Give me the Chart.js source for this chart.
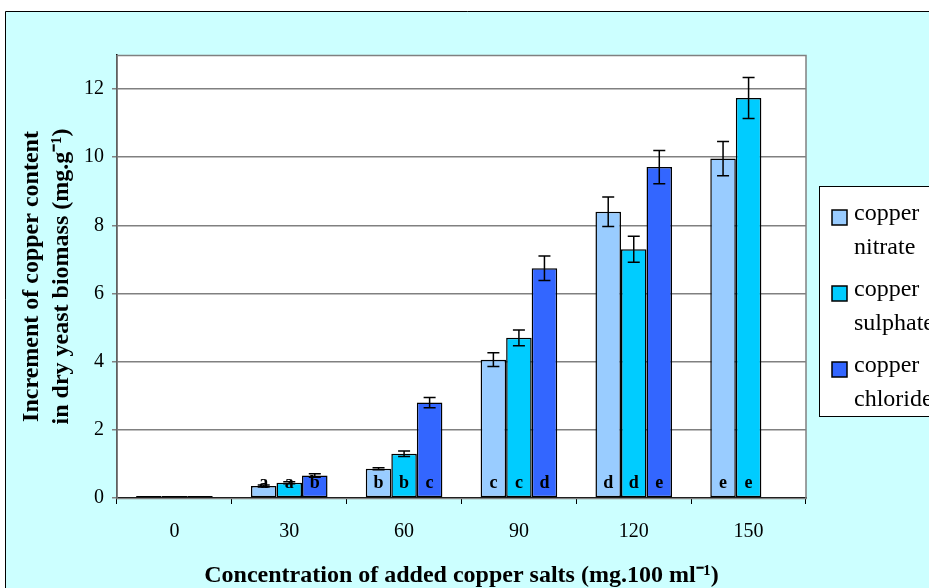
<!DOCTYPE html>
<html>
<head>
<meta charset="utf-8">
<script src="https://cdn.jsdelivr.net/npm/chart.js@4.4.1/dist/chart.umd.min.js"></script>
<style>
  body { margin: 0; background: #fff; }
  #wrap { width: 929px; height: 588px; position: relative; }
</style>
</head>
<body>
<div id="wrap"><canvas id="copperChart"></canvas></div>
<script>
// data
const concentrations = ['0', '30', '60', '90', '120', '150'];
const seriesNames = ['copper nitrate', 'copper sulphate', 'copper chloride'];
const nitrate = [0.06, 0.35, 0.86, 4.06, 8.40, 9.96];
const sulphate = [0.06, 0.45, 1.30, 4.70, 7.30, 11.74];
const chloride = [0.06, 0.66, 2.80, 6.74, 9.71, null];
const nitrateErr = [0, 0.03, 0.03, 0.20, 0.43, 0.50];
const sulphateErr = [0, 0.03, 0.08, 0.23, 0.38, 0.60];
const chlorideErr = [0, 0.05, 0.15, 0.36, 0.49, null];
const nitrateLetters = ['', 'a', 'b', 'c', 'd', 'e'];
const sulphateLetters = ['', 'a', 'b', 'c', 'd', 'e'];
const chlorideLetters = ['', 'b', 'c', 'd', 'e', ''];
const yTicks = [0, 2, 4, 6, 8, 10, 12];

const colors = ['#99CCFF', '#00CCFF', '#3366FF'];
const errors = [nitrateErr, sulphateErr, chlorideErr];
const letters = [nitrateLetters, sulphateLetters, chlorideLetters];
const serif = "'Liberation Serif', 'Times New Roman', serif";

Chart.defaults.font.family = serif;
Chart.defaults.color = '#000';

// cyan frame and white plot box
const backdrop = {
    id: 'backdrop',
    beforeDraw(chart) {
        const ctx = chart.ctx;
        const a = chart.chartArea;
        ctx.save();
        ctx.fillStyle = '#fff';
        ctx.fillRect(0, 0, chart.width, chart.height);
        ctx.fillStyle = '#CCFFFF';
        ctx.fillRect(5, 11, chart.width, chart.height);
        ctx.strokeStyle = '#000';
        ctx.lineWidth = 1;
        ctx.beginPath();
        ctx.moveTo(5.5, chart.height);
        ctx.lineTo(5.5, 11.5);
        ctx.lineTo(chart.width, 11.5);
        ctx.stroke();
        ctx.fillStyle = '#fff';
        ctx.fillRect(a.left, a.top, a.right - a.left, a.bottom - a.top);
        ctx.restore();
    },
    beforeDatasetsDraw(chart) {
        const ctx = chart.ctx;
        const a = chart.chartArea;
        ctx.save();
        ctx.strokeStyle = '#808080';
        ctx.lineWidth = 1.5;
        ctx.strokeRect(a.left, a.top + 0.5, a.right - a.left, a.bottom - a.top);
        ctx.restore();
    }
};

// error bars and significance letters
const extras = {
    id: 'extras',
    afterDatasetsDraw(chart) {
        const ctx = chart.ctx;
        const y = chart.scales.y;
        const zero = y.getPixelForValue(0);
        ctx.save();
        chart.data.datasets.forEach((ds, i) => {
            const meta = chart.getDatasetMeta(i);
            meta.data.forEach((bar, j) => {
                const v = ds.data[j];
                const e = errors[i][j];
                if (v == null) return;
                if (letters[i][j]) {
                    ctx.fillStyle = '#000';
                    ctx.font = 'bold 18px ' + serif;
                    ctx.textAlign = 'center';
                    ctx.textBaseline = 'middle';
                    ctx.fillText(letters[i][j], bar.x, zero - 15);
                }
                if (!e) return;
                const top = y.getPixelForValue(v + e);
                const bot = y.getPixelForValue(v - e);
                ctx.strokeStyle = '#000';
                ctx.lineWidth = 1.5;
                ctx.beginPath();
                ctx.moveTo(bar.x, top);
                ctx.lineTo(bar.x, bot);
                ctx.moveTo(bar.x - 6, top);
                ctx.lineTo(bar.x + 6, top);
                ctx.moveTo(bar.x - 6, bot);
                ctx.lineTo(bar.x + 6, bot);
                ctx.stroke();
            });
        });
        ctx.restore();
    },
    afterDraw(chart) {
        // legend box, partly cut off at the right edge like the original
        const ctx = chart.ctx;
        ctx.save();
        ctx.fillStyle = '#fff';
        ctx.fillRect(819.5, 186.5, 140, 230);
        ctx.strokeStyle = '#000';
        ctx.lineWidth = 1;
        ctx.strokeRect(819.5, 186.5, 140, 230);
        ctx.font = '24px ' + serif;
        ctx.textAlign = 'left';
        ctx.textBaseline = 'middle';
        seriesNames.forEach((name, i) => {
            const top = 210 + i * 76;
            ctx.fillStyle = colors[i];
            ctx.fillRect(832, top, 15, 15);
            ctx.lineWidth = 1.5;
            ctx.strokeRect(832, top, 15, 15);
            const parts = name.split(' ');
            ctx.fillStyle = '#000';
            ctx.fillText(parts[0], 854, top + 4);
            ctx.fillText(parts[1], 854, top + 38);
        });
        ctx.restore();
    }
};

const ctx = document.getElementById('copperChart').getContext('2d');
const copperChart = new Chart(ctx, {
    type: 'bar',
    data: {
        labels: concentrations,
        datasets: [nitrate, sulphate, chloride].map((vals, i) => ({
            label: seriesNames[i],
            data: vals,
            backgroundColor: colors[i],
            borderColor: '#000',
            borderWidth: 1.5,
            borderSkipped: false,
            categoryPercentage: 0.667,
            barPercentage: 1.0
        }))
    },
    options: {
        responsive: true,
        maintainAspectRatio: false,
        animation: false,
        layout: { padding: { left: 0, top: 55, right: 123, bottom: 0 } },
        plugins: {
            legend: { display: false },
            tooltip: { enabled: false }
        },
        scales: {
            x: {
                grid: { drawOnChartArea: false, tickLength: 6, tickColor: '#000', offset: true },
                border: { color: '#000', width: 1.5 },
                ticks: { font: { size: 20 }, padding: 16, color: '#000' },
                title: {
                    display: true,
                    text: 'Concentration of added copper salts (mg.100 ml\u207B\u00B9)',
                    font: { size: 24, weight: 'bold' },
                    padding: { top: 0, bottom: -2 },
                    color: '#000'
                },
                afterFit(scale) { scale.height = 90; }
            },
            y: {
                min: 0,
                max: 13,
                afterBuildTicks(scale) { scale.ticks = yTicks.map(v => ({ value: v })); },
                grid: { color: '#808080', lineWidth: 1.5, tickLength: 5, tickColor: '#808080' },
                border: { color: '#000', width: 1.5 },
                ticks: { font: { size: 20 }, padding: 8, color: '#000' },
                title: {
                    display: true,
                    text: ['Increment of copper content', 'in dry yeast biomass (mg.g\u207B\u00B9)'],
                    font: { size: 24, weight: 'bold', lineHeight: 1.25 },
                    padding: { top: 17, bottom: 0 },
                    color: '#000'
                },
                afterFit(scale) { scale.width = 117; }
            }
        }
    },
    plugins: [backdrop, extras]
});
</script>
</body>
</html>
